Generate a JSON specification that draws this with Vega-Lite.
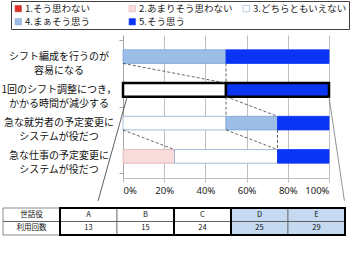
{
  "$schema": "https://vega.github.io/schema/vega-lite/v6.json",
  "width": 206,
  "height": 143,
  "autosize": {"type": "none"},
  "padding": {"left": 123, "top": 35, "right": 21, "bottom": 76},
  "background": "white",
  "config": {"view": {"stroke": null}, "font": "Noto Sans CJK JP", "legend": {"strokeColor": "#404040", "fillColor": "white", "strokeWidth": 1}},
  "datasets": {
    "answers": [
      {"q": 1, "cat": "4.まぁそう思う", "pct": 50},
      {"q": 1, "cat": "5.そう思う", "pct": 50},
      {"q": 2, "cat": "3.どちらともいえない", "pct": 50},
      {"q": 2, "cat": "5.そう思う", "pct": 50},
      {"q": 3, "cat": "3.どちらともいえない", "pct": 50},
      {"q": 3, "cat": "4.まぁそう思う", "pct": 25},
      {"q": 3, "cat": "5.そう思う", "pct": 25},
      {"q": 4, "cat": "2.あまりそう思わない", "pct": 25},
      {"q": 4, "cat": "3.どちらともいえない", "pct": 50},
      {"q": 4, "cat": "5.そう思う", "pct": 25}
    ],
    "questions": [
      {"q": 1, "label": "シフト編成を行うのが\n容易になる"},
      {"q": 2, "label": "1回のシフト調整につき，\nかかる時間が減少する"},
      {"q": 3, "label": "急な就労者の予定変更に\nシステムが役だつ"},
      {"q": 4, "label": "急な仕事の予定変更に\nシステムが役だつ"}
    ],
    "seriesLines": [
      {"from_q": 1, "to_q": 2, "from_pct": 0, "to_pct": 50},
      {"from_q": 1, "to_q": 2, "from_pct": 50, "to_pct": 50},
      {"from_q": 2, "to_q": 3, "from_pct": 50, "to_pct": 50},
      {"from_q": 2, "to_q": 3, "from_pct": 50, "to_pct": 75},
      {"from_q": 3, "to_q": 4, "from_pct": 0, "to_pct": 25},
      {"from_q": 3, "to_q": 4, "from_pct": 50, "to_pct": 75},
      {"from_q": 3, "to_q": 4, "from_pct": 75, "to_pct": 75}
    ],
    "callout": [
      {"x": 2, "y": 2, "x2": -12.1, "y2": 5.339, "side": "left"},
      {"x": 100, "y": 2, "x2": 107.5, "y2": 5.339, "side": "right"}
    ],
    "cells": [
      {"c": 0, "r": 0, "label": "世話役", "group": "label"},
      {"c": 0, "r": 1, "label": "利用回数", "group": "label"},
      {"c": 1, "r": 0, "label": "A", "group": "AB"},
      {"c": 1, "r": 1, "label": "13", "group": "AB"},
      {"c": 2, "r": 0, "label": "B", "group": "AB"},
      {"c": 2, "r": 1, "label": "15", "group": "AB"},
      {"c": 3, "r": 0, "label": "C", "group": "C"},
      {"c": 3, "r": 1, "label": "24", "group": "C"},
      {"c": 4, "r": 0, "label": "D", "group": "DE"},
      {"c": 4, "r": 1, "label": "25", "group": "DE"},
      {"c": 5, "r": 0, "label": "E", "group": "DE"},
      {"c": 5, "r": 1, "label": "29", "group": "DE"}
    ],
    "groups": [
      {"group": "AB", "from": 1, "to": 3},
      {"group": "C", "from": 3, "to": 4},
      {"group": "DE", "from": 4, "to": 6}
    ]
  },
  "layer": [
    {
      "layer": [
        {
          "data": {"name": "answers"},
          "mark": {"type": "bar", "orient": "horizontal", "height": 13.6},
          "encoding": {
            "y": {
              "field": "q", "type": "quantitative",
              "scale": {"domain": [0.5, 4.5], "reverse": true, "nice": false, "zero": false},
              "axis": {"values": [0.5, 1.5, 2.5, 3.5, 4.5], "labels": false, "ticks": true, "tickSize": 4, "tickColor": "#A6A6A6", "domainColor": "#A6A6A6", "grid": false, "title": null}
            },
            "x": {
              "field": "pct", "type": "quantitative", "stack": "zero",
              "scale": {"domain": [0, 100], "nice": false},
              "axis": {"values": [0, 20, 40, 60, 80, 100], "labelExpr": "datum.value + '%'", "grid": true, "gridColor": "#BFBFBF", "tickColor": "#BFBFBF", "tickSize": 4, "domain": true, "domainColor": "#BFBFBF", "labelFontSize": 9.5, "labelFont": "Noto Sans", "labelColor": "#222222", "labelPadding": 3, "title": null}
            },
            "color": {
              "field": "cat", "type": "nominal",
              "scale": {
                "domain": ["1.そう思わない", "2.あまりそう思わない", "3.どちらともいえない", "4.まぁそう思う", "5.そう思う"],
                "range": ["#E0302A", "#F9DCDC", "#FFFFFF", "#9BBDE6", "#0B35F5"]
              },
              "legend": {
                "orient": "none", "legendX": -112, "legendY": -34, "direction": "horizontal", "columns": 3, "title": null,
                "symbolType": "square", "symbolSize": 40, "symbolStrokeColor": "#8C8C8C", "symbolStrokeWidth": 0.6,
                "labelFontSize": 9.5, "labelFont": "Noto Sans CJK JP", "labelColor": "#222222", "labelOffset": 2, "labelLimit": 200,
                "columnPadding": 9, "rowPadding": 2.5, "gridAlign": "all", "padding": 2.5,
                "strokeColor": "#404040", "fillColor": "white"
              }
            },
            "stroke": {
              "condition": {"test": "datum.q == 2", "value": "black"},
              "field": "cat", "type": "nominal",
              "scale": {
                "domain": ["1.そう思わない", "2.あまりそう思わない", "3.どちらともいえない", "4.まぁそう思う", "5.そう思う"],
                "range": ["#C0392B", "#E2B0B0", "#8EA9D0", "#7EA3D4", "#0B35F5"]
              },
              "legend": null
            },
            "strokeWidth": {"condition": {"test": "datum.q == 2", "value": 2.5}, "value": 0.8},
            "order": {"field": "cat"}
          }
        },
        {
          "data": {"name": "seriesLines"},
          "mark": {"type": "rule", "color": "#404040", "strokeWidth": 0.8, "strokeDash": [3, 2], "yOffset": 6.8, "y2Offset": -6.8},
          "encoding": {
            "x": {"field": "from_pct", "type": "quantitative", "title": null},
            "x2": {"field": "to_pct"},
            "y": {"field": "from_q", "type": "quantitative", "title": null},
            "y2": {"field": "to_q"}
          }
        },
        {
          "data": {"name": "callout"},
          "mark": {"type": "rule", "strokeWidth": 0.8, "yOffset": 7},
          "encoding": {
            "x": {"field": "x", "type": "quantitative", "title": null},
            "x2": {"field": "x2"},
            "y": {"field": "y", "type": "quantitative", "title": null},
            "y2": {"field": "y2"},
            "color": {"condition": {"test": "datum.side == 'left'", "value": "#333333"}, "value": "#777777"}
          }
        },
        {
          "data": {"name": "questions"},
          "mark": {"type": "text", "align": "center", "baseline": "middle", "dx": -64, "lineBreak": "\n", "fontSize": 10, "lineHeight": 14, "font": "Noto Sans CJK JP", "color": "#111111"},
          "encoding": {
            "y": {"field": "q", "type": "quantitative", "title": null},
            "x": {"datum": 0},
            "text": {"field": "label"}
          }
        }
      ]
    },
    {
      "data": {"name": "cells"},
      "encoding": {
        "x": {"field": "c", "type": "ordinal", "scale": {"type": "band", "domain": [0, 1, 2, 3, 4, 5], "range": [-120, 222], "paddingInner": 0, "paddingOuter": 0}, "axis": null},
        "y": {"field": "r", "type": "ordinal", "scale": {"type": "band", "domain": [0, 1], "range": [173, 200], "paddingInner": 0, "paddingOuter": 0}, "axis": null}
      },
      "layer": [
        {
          "mark": {"type": "rect", "stroke": "#595959", "strokeWidth": 0.7},
          "encoding": {
            "fill": {"condition": {"test": "datum.group == 'DE'", "value": "#C5D9F1"}, "value": "white"},
            "strokeDash": {"condition": {"test": "datum.c == 0", "value": [1, 0]}, "value": [2, 1.5]}
          }
        },
        {
          "mark": {"type": "text", "align": "center", "baseline": "middle", "fontSize": 7.5, "font": "Noto Sans CJK JP", "color": "#111111"},
          "encoding": {
            "text": {"field": "label"}
          }
        }
      ]
    },
    {
      "encoding": {
        "x": {"field": "from", "type": "quantitative", "scale": {"domain": [2.1053, 5.7193], "nice": false, "zero": false}, "axis": null},
        "y": {"datum": 0, "type": "quantitative", "scale": {"domain": [-12.8148, -2.2222], "reverse": true, "nice": false, "zero": false}, "axis": null}
      },
      "layer": [
        {
          "data": {"values": [{"from": 0, "to": 6}]},
          "mark": {"type": "rule", "color": "#595959", "strokeWidth": 0.7},
          "encoding": {
            "x2": {"field": "to"},
            "y": {"datum": 1, "type": "quantitative"}
          }
        },
        {
          "data": {"name": "groups"},
          "mark": {"type": "rect", "fillOpacity": 0, "stroke": "black", "strokeWidth": 2},
          "encoding": {
            "x2": {"field": "to"},
            "y2": {"datum": 2}
          }
        }
      ]
    }
  ],
  "resolve": {"scale": {"x": "independent", "y": "independent"}}
}
